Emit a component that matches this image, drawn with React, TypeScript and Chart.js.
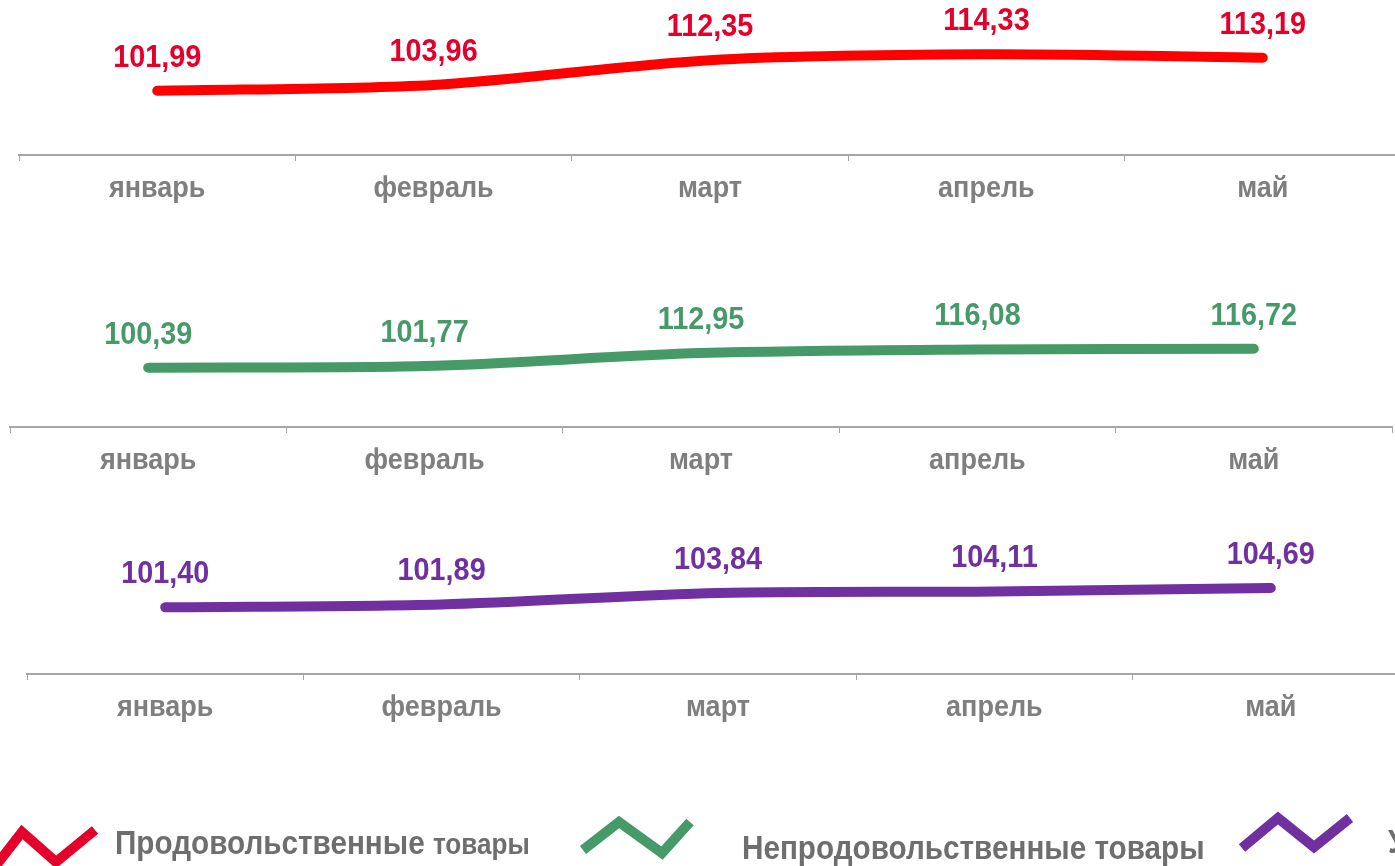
import React, { useEffect, useRef } from "react";
import { Chart, registerables } from "chart.js";

Chart.register(...registerables);

// ---- data ----
const months = ["январь", "февраль", "март", "апрель", "май"];
const foodValues = [101.99, 103.96, 112.35, 114.33, 113.19];
const nonFoodValues = [100.39, 101.77, 112.95, 116.08, 116.72];
const servicesValues = [101.4, 101.89, 103.84, 104.11, 104.69];
const legendLabels = ["Продовольственные", "товары", "Непродовольственные товары", "Услуги"];

const FONT = '"Liberation Sans", Arial, sans-serif';
const SQUEEZE = 0.9;
const fmt = (v: number) => v.toFixed(2).replace(".", ",");

type Panel = {
  values: number[];
  lineColor: string;
  labelColor: string;
  left: number;
  top: number;
  areaH: number;
  min: number;
  max: number;
};

const panels: Panel[] = [
  { values: foodValues, lineColor: "#FF0000", labelColor: "#E4002B", left: 9, top: 0, areaH: 155, min: 80.16, max: 132.78 },
  { values: nonFoodValues, lineColor: "#469A68", labelColor: "#469A68", left: 0, top: 270, areaH: 157, min: 49.4, max: 184.39 },
  { values: servicesValues, lineColor: "#7030A0", labelColor: "#7030A0", left: 17, top: 520, areaH: 154, min: 90.04, max: 116.27 },
];

const AXIS_H = 60;
const CANVAS_W = 1402;

function drawSqueezed(ctx: CanvasRenderingContext2D, text: string, x: number, y: number) {
  ctx.save();
  ctx.translate(x, y);
  ctx.scale(SQUEEZE, 1);
  ctx.fillText(text, 0, 0);
  ctx.restore();
}

const textLabels = {
  id: "textLabels",
  afterDraw(chart: any, _args: any, opts: any) {
    const ctx = chart.ctx as CanvasRenderingContext2D;
    ctx.save();
    ctx.textAlign = "center";
    ctx.textBaseline = "middle";
    // value labels above points
    const meta = chart.getDatasetMeta(0);
    const ds = chart.data.datasets[0];
    ctx.font = `bold ${opts.valueSize}px ${FONT}`;
    ctx.fillStyle = opts.valueColor;
    meta.data.forEach((pt: any, i: number) => {
      drawSqueezed(ctx, fmt(ds.data[i] as number), pt.x, pt.y - opts.valueOffset);
    });
    // category labels under axis
    const xs = chart.scales.x;
    ctx.font = `bold ${opts.tickSize}px ${FONT}`;
    ctx.fillStyle = opts.tickColor;
    xs.ticks.forEach((t: any, i: number) => {
      drawSqueezed(ctx, xs.getLabelForValue(t.value), xs.getPixelForTick(i), xs.top + opts.tickOffset);
    });
    ctx.restore();
  },
};

function LinePanel({ p }: { p: Panel }) {
  const ref = useRef<HTMLCanvasElement | null>(null);
  useEffect(() => {
    if (!ref.current) return;
    const chart = new Chart(ref.current, {
      type: "line",
      data: {
        labels: months,
        datasets: [
          {
            data: p.values,
            borderColor: p.lineColor,
            backgroundColor: p.lineColor,
            borderWidth: 10,
            borderCapStyle: "round",
            borderJoinStyle: "round",
            pointRadius: 0,
            tension: 0.3,
            fill: false,
            clip: false as any,
          },
        ],
      },
      options: {
        responsive: false,
        animation: false,
        layout: { padding: { left: 10, right: 10, top: 0, bottom: 0 } },
        plugins: {
          legend: { display: false },
          tooltip: { enabled: false },
          textLabels: {
            valueColor: p.labelColor,
            valueSize: 32,
            valueOffset: 33,
            tickColor: "#7F7F7F",
            tickSize: 30,
            tickOffset: 34,
          },
        } as any,
        scales: {
          x: {
            type: "category",
            offset: true,
            grid: {
              offset: true,
              drawOnChartArea: false,
              drawTicks: true,
              tickLength: 6,
              color: "#A6A6A6",
              lineWidth: 1,
            },
            border: { display: true, color: "#A6A6A6", width: 2 },
            ticks: { display: false, autoSkip: false, maxRotation: 0 },
            afterFit: (scale: any) => {
              scale.height = AXIS_H;
            },
          },
          y: { display: false, min: p.min, max: p.max },
        },
      },
      plugins: [textLabels],
    });
    return () => chart.destroy();
  }, [p]);
  return (
    <canvas
      ref={ref}
      width={CANVAS_W}
      height={p.areaH + AXIS_H}
      style={{ position: "absolute", left: p.left, top: p.top, width: CANVAS_W, height: p.areaH + AXIS_H }}
    />
  );
}

function Legend() {
  const textStyle = { fontFamily: FONT, fontWeight: 700, fill: "#6E6E6E" } as any;
  const squeezeAt = (x: number) => `translate(${x} 0) scale(${SQUEEZE} 1) translate(${-x} 0)`;
  return (
    <svg
      width={1395}
      height={866}
      style={{ position: "absolute", left: 0, top: 0, pointerEvents: "none" }}
    >
      <polyline points="-6,868 22,832 56,862 95,830" fill="none" stroke="#E4002B" strokeWidth={10} strokeLinejoin="miter" />
      <text x={115} y={854} style={textStyle} fontSize={33} transform={squeezeAt(115)}>
        {legendLabels[0]} <tspan fontSize={29}>{legendLabels[1]}</tspan>
      </text>
      <polyline points="583,850 619,822 662,853 690,822" fill="none" stroke="#469A68" strokeWidth={10} strokeLinejoin="miter" />
      <text x={742} y={859} style={textStyle} fontSize={33} transform={squeezeAt(742)}>
        {legendLabels[2]}
      </text>
      <polyline points="1242,848 1278,818 1314,847 1350,818" fill="none" stroke="#7030A0" strokeWidth={10} strokeLinejoin="miter" />
      <text x={1388} y={853} style={textStyle} fontSize={33} transform={squeezeAt(1388)}>
        {legendLabels[3]}
      </text>
    </svg>
  );
}

export default function App() {
  return (
    <div
      style={{
        position: "fixed",
        left: 0,
        top: 0,
        width: 1395,
        height: 866,
        overflow: "hidden",
        background: "#FFFFFF",
      }}
    >
      {panels.map((p, i) => (
        <LinePanel key={i} p={p} />
      ))}
      <Legend />
    </div>
  );
}
